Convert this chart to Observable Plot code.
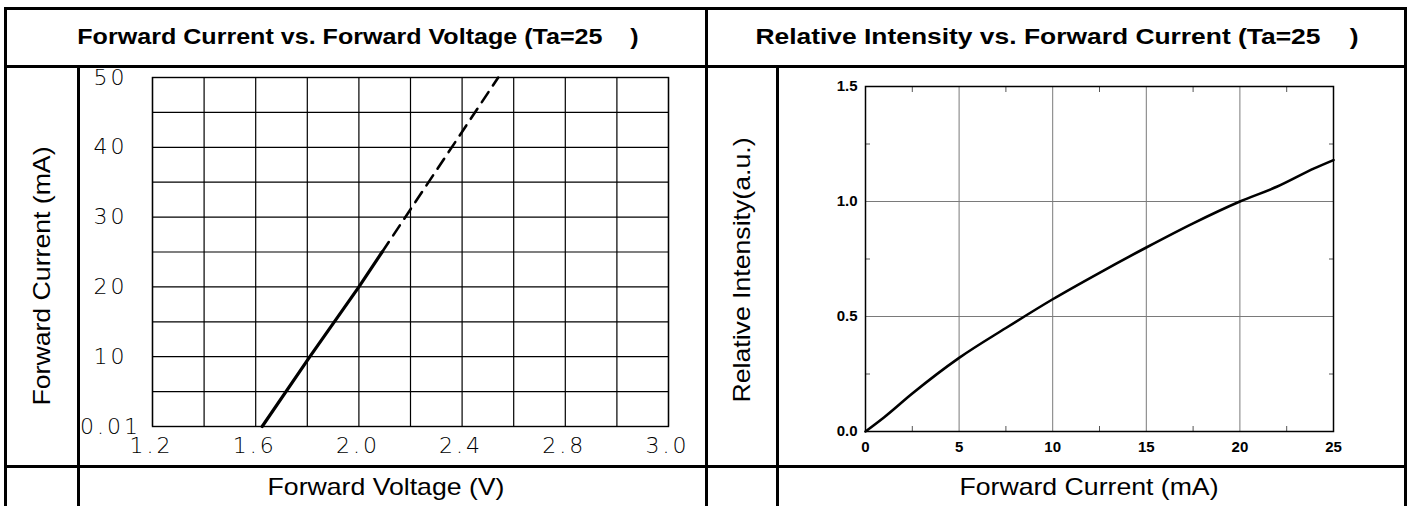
<!DOCTYPE html>
<html>
<head>
<meta charset="utf-8">
<script src="https://cdn.jsdelivr.net/npm/d3@7"></script>
<script src="https://cdn.jsdelivr.net/npm/@observablehq/plot@0.6"></script>
<style>
html,body{margin:0;padding:0;background:#fff;}
body{width:1411px;height:506px;overflow:hidden;position:relative;font-family:"Liberation Sans",Arial,sans-serif;}
.ln{position:absolute;background:#000;z-index:5;}
.t{position:absolute;white-space:pre;color:#000;line-height:1;}
.title{font-weight:bold;font-size:22px;transform:translate(-50%,-50%) scaleX(1.14);}
.title.r{transform:translate(-50%,-50%) scaleX(1.2);}
.xl{font-size:24px;transform:translate(-50%,-50%) scaleX(1.11);}
.yl{font-size:24px;transform:translate(-50%,-50%) rotate(-90deg) scaleX(1.11);}
.panel{position:absolute;top:66px;}
#left g[aria-label="x-axis tick label"] text,
#left g[aria-label="y-axis tick label"] text{letter-spacing:3px;}
</style>
</head>
<body>
<div id="left" class="panel" style="left:78px"></div>
<div id="right" class="panel" style="left:777px"></div>

<div class="t title" id="t1" style="left:358px;top:37px"></div>
<div class="t title r" id="t2" style="left:1057px;top:37px"></div>
<div class="t xl" id="x1" style="left:386px;top:487px"></div>
<div class="t xl" id="x2" style="left:1089px;top:487px"></div>
<div class="t yl" id="y1" style="left:42px;top:276px"></div>
<div class="t yl" id="y2" style="left:742px;top:270px"></div>

<!-- table rules -->
<div class="ln" style="left:4px;top:7px;width:1403px;height:3px"></div>
<div class="ln" style="left:4px;top:65px;width:1403px;height:3px"></div>
<div class="ln" style="left:4px;top:465px;width:1403px;height:3px"></div>
<div class="ln" style="left:4px;top:7px;width:3px;height:510px"></div>
<div class="ln" style="left:705px;top:7px;width:3px;height:510px"></div>
<div class="ln" style="left:1404px;top:7px;width:3px;height:510px"></div>
<div class="ln" style="left:77px;top:65px;width:3px;height:450px"></div>
<div class="ln" style="left:776px;top:65px;width:3px;height:450px"></div>

<script>
// ---------- texts ----------
const titleLeft = "Forward Current vs. Forward Voltage (Ta=25    )";
const titleRight = "Relative Intensity vs. Forward Current (Ta=25    )";
const xLabelLeft = "Forward Voltage (V)";
const yLabelLeft = "Forward Current (mA)";
const xLabelRight = "Forward Current (mA)";
const yLabelRight = "Relative Intensity(a.u.)";

// ---------- left chart: forward current vs forward voltage ----------
const vfGridX = [1.2, 1.4, 1.6, 1.8, 2.0, 2.2, 2.4, 2.6, 2.8, 3.0, 3.2];
const vfGridY = [0, 5, 10, 15, 20, 25, 30, 35, 40, 45, 50];
const vfTickX = [1.2, 1.6, 2.0, 2.4, 2.8, 3.2];
const vfTickXLabels = ["1.2", "1.6", "2.0", "2.4", "2.8", "3.0"];
const vfTickY = [0, 10, 20, 30, 40, 50];
const vfTickYLabels = ["0.01", "10", "20", "30", "40", "50"];
const vfSolidV = [1.625, 1.81, 2.0, 2.09];
const vfSolidI = [0, 10, 20, 25];
const vfDashV = [2.09, 2.54];
const vfDashI = [25, 50];

// ---------- right chart: relative intensity vs forward current ----------
const riGridX = [5, 10, 15, 20];
const riGridY = [0.5, 1.0];
const riMinorX = [2.5, 7.5, 12.5, 17.5, 22.5];
const riMinorY = [0.25, 0.75, 1.25];
const riTickX = [0, 5, 10, 15, 20, 25];
const riTickY = [0, 0.5, 1.0, 1.5];
const riTickYLabels = ["0.0", "0.5", "1.0", "1.5"];
const riCurrent = [0, 1, 2.5, 5, 7.5, 10, 12.5, 15, 17.5, 20, 22, 24, 25];
const riIntensity = [0, 0.062, 0.165, 0.32, 0.45, 0.575, 0.69, 0.80, 0.905, 1.0, 1.065, 1.145, 1.18];

document.getElementById("t1").textContent = titleLeft;
document.getElementById("t2").textContent = titleRight;
document.getElementById("x1").textContent = xLabelLeft;
document.getElementById("y1").textContent = yLabelLeft;
document.getElementById("x2").textContent = xLabelRight;
document.getElementById("y2").textContent = yLabelRight;

const solid = vfSolidV.map((v, i) => ({v, i: vfSolidI[i]}));
const dash = vfDashV.map((v, i) => ({v, i: vfDashI[i]}));
const thin = {fontFamily: "DejaVu Sans", fontWeight: 200, fontSize: 22, fill: "#000"};

const left = Plot.plot({
  width: 628, height: 400,
  marginLeft: 74, marginRight: 38, marginTop: 11, marginBottom: 40,
  x: {domain: [1.2, 3.2]},
  y: {domain: [0, 50]},
  style: {background: "transparent", overflow: "visible"},
  marks: [
    Plot.gridX(vfGridX, {stroke: "#000", strokeOpacity: 1, strokeWidth: 1.2}),
    Plot.gridY(vfGridY, {stroke: "#000", strokeOpacity: 1, strokeWidth: 1.2}),
    Plot.frame({stroke: "#000", strokeWidth: 1.4}),
    Plot.axisX(vfTickX, {tickSize: 0, tickPadding: 11, dx: -1, label: null,
      tickFormat: d => vfTickXLabels[vfTickX.indexOf(d)], ...thin}),
    Plot.axisY(vfTickY, {tickSize: 0, tickPadding: 42, textAnchor: "middle", label: null,
      tickFormat: d => vfTickYLabels[vfTickY.indexOf(d)], ...thin}),
    Plot.line(solid, {x: "v", y: "i", stroke: "#000", strokeWidth: 3.2}),
    Plot.line(dash, {x: "v", y: "i", stroke: "#000", strokeWidth: 2.6, strokeDasharray: "12,8"})
  ]
});
document.getElementById("left").appendChild(left);

const curve = riCurrent.map((c, i) => ({c, r: riIntensity[i]}));
const bold = {fontFamily: "Liberation Sans", fontWeight: "bold", fontSize: 15, fill: "#000"};
const right = Plot.plot({
  width: 628, height: 400,
  marginLeft: 88, marginRight: 72, marginTop: 20, marginBottom: 35,
  x: {domain: [0, 25]},
  y: {domain: [0, 1.5]},
  style: {background: "transparent", overflow: "visible"},
  marks: [
    Plot.gridX(riGridX, {stroke: "#7a7a7a", strokeOpacity: 1, strokeWidth: 1}),
    Plot.gridY(riGridY, {stroke: "#7a7a7a", strokeOpacity: 1, strokeWidth: 1}),
    Plot.axisX(riMinorX, {anchor: "bottom", tickSize: -5, tickFormat: () => "", stroke: "#555", label: null}),
    Plot.axisX(riMinorX, {anchor: "top", tickSize: -5, tickFormat: () => "", stroke: "#555", label: null}),
    Plot.axisY(riMinorY, {anchor: "left", tickSize: -5, tickFormat: () => "", stroke: "#555", label: null}),
    Plot.axisY(riMinorY, {anchor: "right", tickSize: -5, tickFormat: () => "", stroke: "#555", label: null}),
    Plot.frame({stroke: "#000", strokeWidth: 1.5}),
    Plot.axisX(riTickX, {tickSize: 0, tickPadding: 10, label: null, ...bold}),
    Plot.axisY(riTickY, {tickSize: 0, tickPadding: 8, label: null,
      tickFormat: d => riTickYLabels[riTickY.indexOf(d)], ...bold}),
    Plot.line(curve, {x: "c", y: "r", curve: "monotone-x", stroke: "#000", strokeWidth: 2.6})
  ]
});
document.getElementById("right").appendChild(right);
</script>
</body>
</html>
